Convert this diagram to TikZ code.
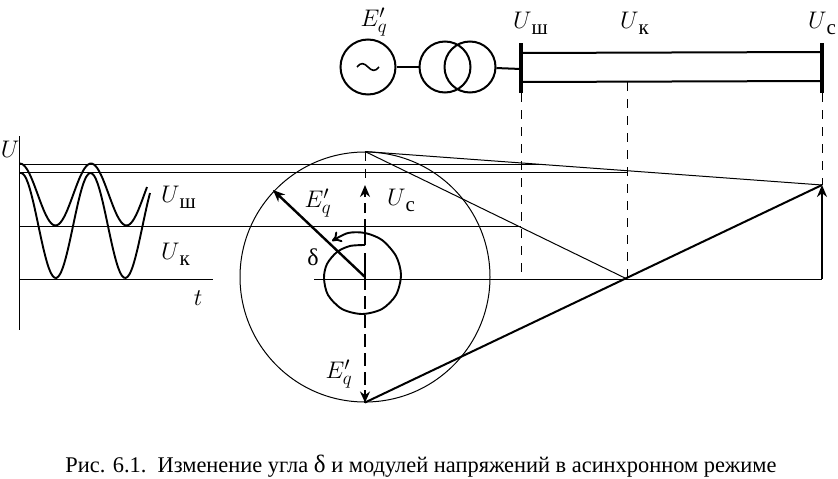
\documentclass[tikz,border=0pt]{standalone}
\usepackage{fix-cm}
\usepackage{fontspec}
\setmainfont{Liberation Serif}
\usetikzlibrary{arrows.meta}
\DeclareMathSizes{24}{24}{19}{15}
\tikzset{
  thinline/.style={line width=1pt},
  busline/.style={line width=2pt},
  busbar/.style={line width=4pt},
  vector/.style={line width=2.4pt,-{Stealth[length=12pt,width=10pt]}},
  wave/.style={line width=1.9pt},
  dropline/.style={line width=1pt,dash pattern=on 9pt off 8pt},
  axisline/.style={line width=1.5pt,dash pattern=on 13pt off 6pt},
  elem/.style={circle,draw,line width=2pt,inner sep=0pt},
  lab/.style={inner sep=0pt,font=\fontsize{24}{26}\selectfont}
}
\newcommand{\Ulab}[1]{$U$\raisebox{-6pt}{\fontsize{21}{22}\selectfont #1}}
\begin{document}
\begin{tikzpicture}[x=1pt,y=-1pt]
\useasboundingbox (0,0) rectangle (838,479);

% Single-line scheme
\node[elem,minimum size=55pt] (gen) at (368,67) {};
\node[elem,minimum size=51pt] (trafoL) at (445,67) {};
\node[elem,minimum size=51pt] (trafoR) at (470,67) {};
\draw[line width=1.6pt] (357,67) .. controls (361,62) and (364,63) .. (368,67) .. controls (372,71) and (375,72) .. (379,67);
\coordinate (busLtop) at (521,43);
\coordinate (busLbot) at (521,93);
\coordinate (busLfeed) at (521,69);
\coordinate (busRtop) at (822,43);
\coordinate (busRbot) at (822,93);
\coordinate (lineLup) at (521,53);
\coordinate (lineRup) at (822,52);
\coordinate (lineLdn) at (521,82);
\coordinate (lineRdn) at (822,81);
\coordinate (tapK) at (627,82);
\draw[busline] (gen) -- (trafoL);
\draw[busline] (trafoR) -- (busLfeed);
\draw[busbar] (busLtop) -- (busLbot);
\draw[busbar] (busRtop) -- (busRbot);
\draw[busline] (lineLup) -- (lineRup);
\draw[busline] (lineLdn) -- (lineRdn);

% Vector circles
\node[circle,draw,thinline,inner sep=0pt,minimum size=250pt] (bigcirc) at (365,277) {};
\coordinate (orig) at (365,277);
\coordinate (eqTip) at (273,190);
\coordinate (ucTip) at (365,185);
\coordinate (ucMid) at (365,245);
\coordinate (ptK) at (627,279);
\coordinate (ptSh) at (521,279);
\coordinate (ptC) at (822,279);
\coordinate (ptCtip) at (822,185);
\draw[dropline] (bigcirc.north) -- (ucTip);
\draw[axisline] (orig) -- (bigcirc.south);
\draw[line width=2.4pt,dash pattern=on 10pt off 6pt,-{Stealth[length=12pt,width=10pt]}] (ucMid) -- (ucTip);
\draw[line width=2.4pt] (ucMid) -- ++(0,-22);
\draw[line width=2.4pt] (orig) -- ++(0,-24);
\draw[line width=1.6pt,-{Stealth[length=11pt,width=10pt]}] (365,390) -- (bigcirc.south);
\draw[vector] (orig) -- (eqTip);
\draw[line width=1.9pt,-{To[length=9pt,width=12pt]}] plot[smooth] coordinates {(365,245) (350,246) (337,252) (327,264) (324,278) (328,295) (342,309) (362,314) (382,309) (396,295) (401,275) (396,256) (382,240) (365,233) (348,233) (332,241)};

% Projections
\coordinate (axTop) at (19,136);
\coordinate (axBot) at (19,330);
\coordinate (tEnd) at (213,279);
\coordinate (baseL) at (314,279);
\draw[thinline] (axTop) -- (axBot);
\draw[thinline] (19,164) -- (541,164);
\draw[thinline] (19,172) -- (627,172);
\draw[thinline] (19,226) -- (521,226);
\draw[thinline] (19,279) -- (tEnd);
\draw[thinline] (baseL) -- (ptC);
\draw[thinline] (bigcirc.north) -- (ptCtip);
\draw[thinline] (bigcirc.north) -- (ptK);
\draw[line width=2pt] (bigcirc.south) -- (ptCtip);
\draw[vector] (ptC) -- (ptCtip);
\draw[dropline] (busLbot) -- (ptSh);
\draw[dropline] (tapK) -- (ptK);
\draw[dropline] (busRbot) -- (ptCtip);

% Waves
\draw[wave] (19,164) -- (22,164) plot[domain=20:147,samples=70,smooth] (\x,{194.5-31*cos(5.07*(\x-91))});
\draw[wave] (19,173) -- (22,173) plot[domain=21:150,samples=70,smooth] (\x,{225.5-52.5*cos(5.18*(\x-90.5))});

% Labels
\node[lab] (labE) at (374,22) {$E'_q$};
\node[lab,anchor=base west] (labSh) at (513,28) {\Ulab{ш}};
\node[lab,anchor=base west] (labK) at (620,28) {\Ulab{к}};
\node[lab,anchor=base west] (labC) at (808,28) {\Ulab{с}};
\node[lab,anchor=base] (labU) at (10,157) {$U$};
\node[lab,anchor=base west] (labWsh) at (161,202) {\Ulab{ш}};
\node[lab,anchor=base west] (labWk) at (161,259) {\Ulab{к}};
\node[lab,anchor=base] (labT) at (198,305) {$t$};
\node[lab] (labEq) at (318,203) {$E'_q$};
\node[lab,anchor=base west] (labUc) at (387,205) {\Ulab{с}};
\node[lab] (labD) at (313,257) {δ};
\node[lab] (labEd) at (339,374) {$E'_q$};
\node[anchor=base,inner sep=0pt,font=\fontsize{22.4}{24}\selectfont] (caption) at (421,472) {Рис. 6.1.\ \ Изменение угла {\fontsize{25}{26}\selectfont δ} и модулей напряжений в асинхронном режиме};
\end{tikzpicture}
\end{document}
